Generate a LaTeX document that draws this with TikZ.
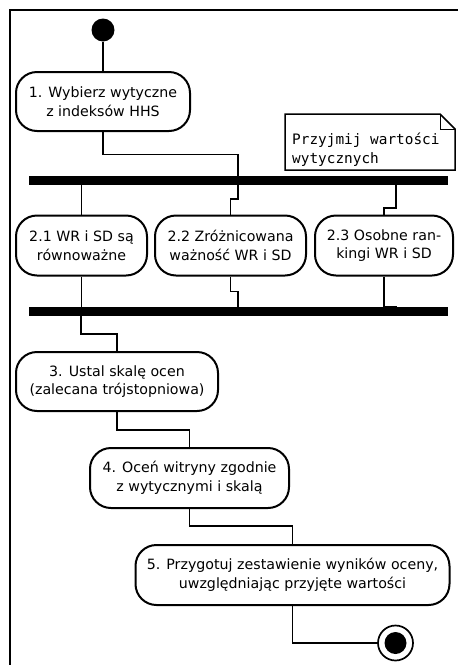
\documentclass[tikz,border=0pt]{standalone}
\usepackage{fontspec}
\setmainfont{DejaVu Sans}
\setmonofont{DejaVu Sans Mono}
\begin{document}
\begin{tikzpicture}[x=1pt,y=-1pt,
  txt/.style={font=\fontsize{14.2}{18.5}\selectfont},
  act/.style={txt,draw,line width=2pt,rounded corners=21pt,align=center,inner sep=0pt,fill=white},
  bar/.style={fill=black,inner sep=0pt,minimum width=419pt,minimum height=9pt},
  conn/.style={line width=1.8pt},
  notebox/.style={line width=1.5pt,fill=white}]
\useasboundingbox (0,0) rectangle (458,665);
\begin{scope}
\clip (0,0) rectangle (458,665);
\draw[line width=2.5pt] (10,10) rectangle (470,680);
\end{scope}
% start
\node[circle,fill=black,minimum size=23pt,inner sep=0pt] (start) at (103,30) {};
% actions
\node[act,minimum width=174pt,minimum height=59pt] (n1) at (103,101.5) {1. Wybierz wytyczne\\z indeksów HHS};
\node[act,minimum width=131pt,minimum height=60pt] (n21) at (81.5,245.5) {2.1 WR i SD są\\równoważne};
\node[act,minimum width=151pt,minimum height=60pt] (n22) at (230.5,245.5) {2.2 Zróżnicowana\\ważność WR i SD};
\node[act,minimum width=138pt,minimum height=60pt] (n23) at (384,245.5) {2.3 Osobne ran-\\kingi WR i SD};
\node[act,minimum width=202pt,minimum height=59pt] (n3) at (117,381.5) {3. Ustal skalę ocen\\(zalecana trójstopniowa)};
\node[act,minimum width=199pt,minimum height=60pt] (n4) at (189.5,478) {4. Oceń witryny zgodnie\\z wytycznymi i skalą};
\node[act,minimum width=314pt,minimum height=60pt] (n5) at (292.5,575) {5. Przygotuj zestawienie wyników oceny,\\uwzględniając przyjęte wartości};
% bars
\node[bar] (bar1) at (238.5,180.5) {};
\node[bar] (bar2) at (238.5,311.5) {};
% end
\node[circle,draw,line width=1.7pt,minimum size=35pt,inner sep=0pt,
  path picture={\fill[black] (path picture bounding box.center) circle (11pt);}] (end) at (395.5,643) {};
% note
\draw[notebox] (285,114) -- (440,114) -- (455,129) -- (455,170) -- (285,170) -- cycle;
\draw[line width=1pt] (440,114) -- (440,129) -- (455,129);
\node[font=\ttfamily\fontsize{14.4}{18.5}\selectfont,align=left,anchor=north west,inner sep=0pt] (note) at (292,133) {Przyjmij wartości\\wytycznych};
% coordinates on bars
\coordinate (b1in) at (238,176);
\coordinate (b1o2) at (238,185);
\coordinate (b1o3) at (396,185);
\coordinate (b2i2) at (238,307);
\coordinate (b2i3) at (396,307);
\coordinate (b2o) at (81,316);
% connectors
\draw[conn] (start) -- (n1.north);
\draw[conn] (n1.south) -- ++(0,22.5) -| (b1in);
\draw[conn] (bar1.south -| n21.north) -- (n21.north);
\draw[conn] (b1o2) -- ++(0,14) -| (n22.north);
\draw[conn] (b1o3) -- ++(0,23) -| (n23.north);
\draw[conn] (n21.south) -- (bar2.north -| n21.south);
\draw[conn] (n22.south) -- ++(0,15) -| (b2i2);
\draw[conn] (n23.south) -- ++(0,30) -| (b2i3);
\draw[conn] (b2o) -- ++(0,18) -| (n3.north);
\draw[conn] (n3.south) -- ++(0,18) -| (n4.north);
\draw[conn] (n4.south) -- ++(0,17) -| (n5.north);
\draw[conn] (n5.south) |- (end.west);
\end{tikzpicture}
\end{document}
